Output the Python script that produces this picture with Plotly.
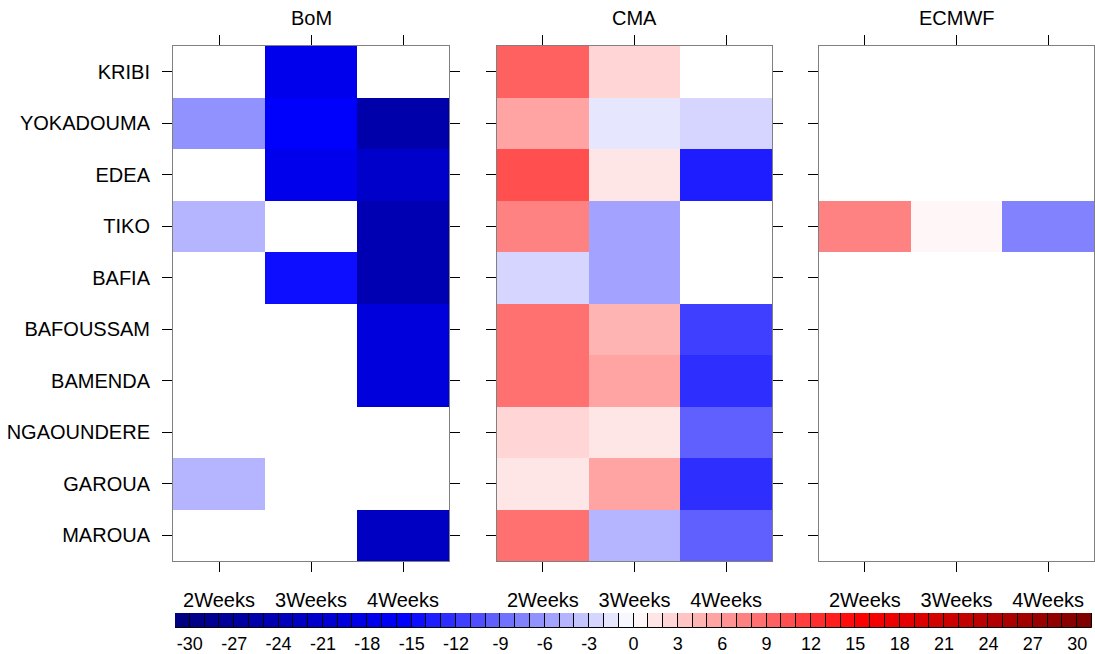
import plotly.graph_objects as go

stations = ["KRIBI", "YOKADOUMA", "EDEA", "TIKO", "BAFIA", "BAFOUSSAM",
            "BAMENDA", "NGAOUNDERE", "GAROUA", "MAROUA"]
weeks = ["2Weeks", "3Weeks", "4Weeks"]
models = ["BoM", "CMA", "ECMWF"]

N = None
bom = [
    [N, -17.5, N],
    [-6.5, -15.5, -25.5],
    [N, -17.5, -21.5],
    [-4.5, N, -24.5],
    [N, -14.5, -24.5],
    [N, N, -19.5],
    [N, N, -19.5],
    [N, N, N],
    [-4.5, N, N],
    [N, N, -22.5],
]
cma = [
    [9.5, 2.5, N],
    [5.5, -1.5, -2.5],
    [10.5, 1.5, -13.5],
    [7.5, -5.5, N],
    [-2.5, -5.5, N],
    [8.5, 4.5, -11.5],
    [8.5, 5.5, -12.5],
    [2.5, 1.5, -9.5],
    [1.5, 5.5, -12.5],
    [8.5, -4.5, -9.5],
]
ecmwf = [
    [N, N, N],
    [N, N, N],
    [N, N, N],
    [7.5, 0.5, -7.5],
    [N, N, N],
    [N, N, N],
    [N, N, N],
    [N, N, N],
    [N, N, N],
    [N, N, N],
]
panels = [bom, cma, ecmwf]

# contour levels -30..30 step 1; colour boxes include the two open-ended
# end boxes (< -30 and > 30), labels sit on the interior boundaries
levels = list(range(-30, 31))
cbar_ticks = list(range(-30, 31, 3))
zmin, zmax = levels[0] - 1, levels[-1] + 1


def cmap(v):
    v = v * 30 / 30.5
    if v <= -15:
        t = (v + 30) / 15
        r, g, b = 0, 0, 128 + 127 * t
    elif v <= 0:
        t = (v + 15) / 15
        r, g, b = 255 * t, 255 * t, 255
    elif v <= 15:
        t = v / 15
        r, g, b = 255, 255 * (1 - t), 255 * (1 - t)
    else:
        t = (v - 15) / 15
        r, g, b = 255 - 127 * t, 0, 0
    return "rgb(%d,%d,%d)" % (round(r), round(g), round(b))


edges = [zmin] + levels + [zmax]
centers = [(a + b) / 2 for a, b in zip(edges[:-1], edges[1:])]
box_colors = [cmap(c) for c in centers]
nbox = len(centers)
colorscale = []
for i, c in enumerate(box_colors):
    colorscale.append([i / nbox, c])
    colorscale.append([(i + 1) / nbox, c])

W, H = 1095, 654
FONT = "Liberation Sans, Arial, sans-serif"
xdoms = [(173 / W, 449 / W), (497 / W, 772 / W), (819 / W, 1094 / W)]
ydom = (1 - 561 / H, 1 - 46 / H)

fig = go.Figure()
for i, (z, dom) in enumerate(zip(panels, xdoms)):
    n = "" if i == 0 else str(i + 1)
    fig.add_trace(go.Heatmap(
        z=z, x=weeks, y=stations, zmin=zmin, zmax=zmax,
        colorscale=colorscale, showscale=False,
        xaxis="x" + n, yaxis="y" + n, hoverongaps=False,
    ))
    fig.update_layout(**{
        "xaxis" + n: dict(
            domain=list(dom), anchor="y" + n, type="category",
            automargin=False,
            showline=True, linecolor="#808080", linewidth=1, mirror="allticks",
            ticks="outside", ticklen=10, tickcolor="black", tickwidth=1,
            tickfont=dict(family=FONT, size=20, color="black"),
            ticklabelstandoff=11, showgrid=False, zeroline=False,
        ),
        "yaxis" + n: dict(
            domain=list(ydom), anchor="x" + n, type="category",
            autorange="reversed", automargin=False,
            showline=True, linecolor="#808080", linewidth=1, mirror="allticks",
            ticks="outside", ticklen=10, tickcolor="black", tickwidth=1,
            showticklabels=(i == 0),
            tickfont=dict(family=FONT, size=20, color="black"),
            ticklabelstandoff=8, showgrid=False, zeroline=False,
        ),
    })
    fig.add_annotation(
        text=models[i], x=(dom[0] + dom[1]) / 2, y=1 - 18 / H,
        xref="paper", yref="paper", showarrow=False,
        font=dict(family=FONT, size=20, color="black"),
        xanchor="center", yanchor="middle",
    )

# colour bar drawn as boxes with separators
fig.add_trace(go.Bar(
    x=centers, y=[1] * nbox, width=[1] * nbox,
    marker=dict(color=box_colors, line=dict(color="black", width=1)),
    xaxis="x4", yaxis="y4", hoverinfo="skip", showlegend=False,
))
fig.update_layout(
    xaxis4=dict(domain=[175 / W, 1092 / W], anchor="y4", range=[zmin, zmax],
                automargin=False,
                tickvals=cbar_ticks, ticktext=[str(t) for t in cbar_ticks],
                ticks="", showgrid=False, zeroline=False, showline=False,
                tickfont=dict(family=FONT, size=18, color="black"),
                ticklabelstandoff=3),
    yaxis4=dict(domain=[1 - 628 / H, 1 - 613 / H], anchor="x4", range=[0, 1],
                automargin=False,
                showticklabels=False, ticks="", showgrid=False,
                zeroline=False, showline=False),
)

fig.update_layout(
    width=W, height=H,
    margin=dict(l=0, r=0, t=0, b=0, pad=0, autoexpand=False),
    paper_bgcolor="white", plot_bgcolor="white", showlegend=False,
    bargap=0,
)
fig.write_html(
    "out.html",
    config={"displayModeBar": False},
    post_script="document.body.style.margin='0';"
                "document.body.style.overflow='hidden';",
)
